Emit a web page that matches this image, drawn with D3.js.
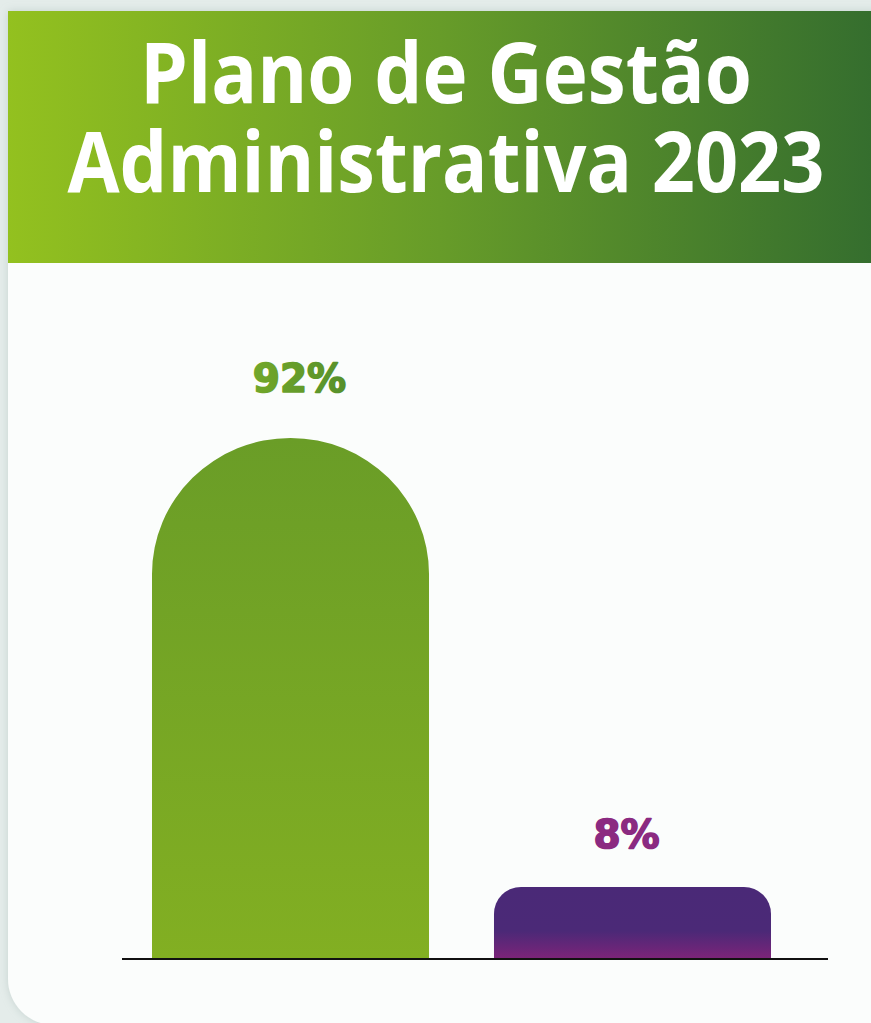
<!DOCTYPE html>
<html>
<head>
<meta charset="utf-8">
<script src="https://cdn.jsdelivr.net/npm/d3@7"></script>
<style>
  html, body { margin: 0; padding: 0; background: #e4ecea; overflow: hidden; }
  svg { display: block; }
</style>
</head>
<body>
<svg id="chart" width="871" height="1023"></svg>
<script>
// chart data
var titleLines = ["Plano de Gestão", "Administrativa 2023"];
var titleWidths = [612, 757];
var categories = ["Realizado", "Não realizado"];
var values = [92, 8];
var labels = ["92%", "8%"];
var labelShift = [9, -6];

var W = 871, H = 1023;
var svg = d3.select("#chart");
var defs = svg.append("defs");

var hg = defs.append("linearGradient").attr("id", "hdr").attr("x1", "0").attr("x2", "1").attr("y1", "0").attr("y2", "0");
hg.append("stop").attr("offset", "0").attr("stop-color", "#93c11f");
hg.append("stop").attr("offset", "0.5").attr("stop-color", "#679c29");
hg.append("stop").attr("offset", "1").attr("stop-color", "#356e2e");

var g1 = defs.append("linearGradient").attr("id", "bar0").attr("x1", "0").attr("x2", "0").attr("y1", "0").attr("y2", "1");
g1.append("stop").attr("offset", "0").attr("stop-color", "#6a9d27");
g1.append("stop").attr("offset", "1").attr("stop-color", "#82af22");

var g2 = defs.append("linearGradient").attr("id", "bar1").attr("x1", "0").attr("x2", "0").attr("y1", "0").attr("y2", "1");
g2.append("stop").attr("offset", "0").attr("stop-color", "#4a2977");
g2.append("stop").attr("offset", "0.62").attr("stop-color", "#4b2977");
g2.append("stop").attr("offset", "1").attr("stop-color", "#7b2479");

var lg = defs.append("linearGradient").attr("id", "lbl0").attr("x1", "0").attr("x2", "1").attr("y1", "0").attr("y2", "0");
lg.append("stop").attr("offset", "0").attr("stop-color", "#72a72a");
lg.append("stop").attr("offset", "1").attr("stop-color", "#56902b");

var sh = defs.append("filter").attr("id", "sh").attr("x", "-5%").attr("y", "-5%").attr("width", "110%").attr("height", "110%");
sh.append("feDropShadow").attr("dx", 0).attr("dy", 0).attr("stdDeviation", 4).attr("flood-color", "#9fb3ae").attr("flood-opacity", 0.45);

// card
var cx0 = 8, cy0 = 11, r = 46;
svg.append("path")
  .attr("d", "M" + cx0 + "," + cy0 + "H" + (W + 40) + "V" + (H + 2) + "H" + (cx0 + r) +
    "A" + r + "," + r + " 0 0 1 " + cx0 + "," + (H + 2 - r) + "Z")
  .attr("fill", "#fbfdfc").attr("filter", "url(#sh)");

svg.append("rect").attr("x", cx0).attr("y", cy0).attr("width", W - cx0).attr("height", 252).attr("fill", "url(#hdr)");

var title = svg.append("g").attr("font-family", "'Open Sans', sans-serif").attr("font-weight", 700)
  .attr("fill", "#ffffff").attr("text-anchor", "middle").attr("font-size", 85);
title.selectAll("text").data(titleLines).enter().append("text")
  .attr("x", 446).attr("y", function(d, i) { return 103 + i * 89; })
  .attr("textLength", function(d, i) { return titleWidths[i]; })
  .attr("lengthAdjust", "spacingAndGlyphs")
  .text(function(d) { return d; });

// bars
var x = d3.scaleBand().domain(categories).range([152, 771]).paddingInner(0.19).paddingOuter(0);
var y = d3.scaleLinear().domain([-5.3, 92]).range([958, 438]);

function barPath(d, i) {
  var x0 = x(categories[i]), bw = x.bandwidth(), y0 = y(d), y1 = y.range()[0];
  var rx = i === 0 ? bw / 2 : 27, ry = i === 0 ? 136 : 27;
  return "M" + x0 + "," + y1 + "V" + (y0 + ry) +
    "A" + rx + "," + ry + " 0 0 1 " + (x0 + rx) + "," + y0 +
    "H" + (x0 + bw - rx) +
    "A" + rx + "," + ry + " 0 0 1 " + (x0 + bw) + "," + (y0 + ry) +
    "V" + y1 + "Z";
}

svg.selectAll("path.bar").data(values).enter().append("path")
  .attr("class", "bar")
  .attr("d", barPath)
  .attr("fill", function(d, i) { return "url(#bar" + i + ")"; });

svg.selectAll("text.val").data(values).enter().append("text")
  .attr("class", "val")
  .attr("x", function(d, i) { return x(categories[i]) + x.bandwidth() / 2 + labelShift[i]; })
  .attr("y", function(d, i) { return y(d) - (i === 0 ? 46 : 39); })
  .attr("text-anchor", "middle")
  .attr("font-family", "'DejaVu Sans', sans-serif").attr("font-weight", 700).attr("font-size", 39)
  .attr("fill", function(d, i) { return i === 0 ? "url(#lbl0)" : "#8b2a81"; })
  .attr("stroke", function(d, i) { return i === 0 ? "url(#lbl0)" : "#8b2a81"; })
  .attr("stroke-width", 1.6).attr("stroke-linejoin", "round")
  .text(function(d, i) { return labels[i]; });

svg.append("line").attr("x1", 122).attr("x2", 828).attr("y1", 959).attr("y2", 959)
  .attr("stroke", "#111").attr("stroke-width", 2.2);
</script>
</body>
</html>
